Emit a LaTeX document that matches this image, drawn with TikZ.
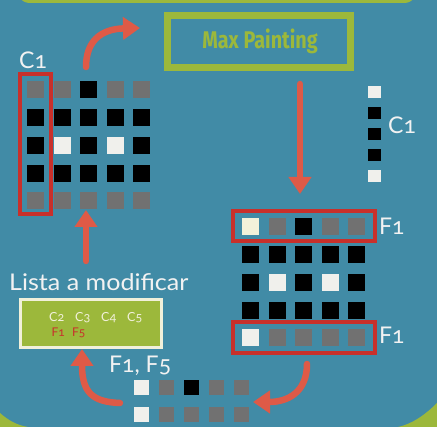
\documentclass[tikz,border=0pt]{standalone}
\usepackage{fontspec}
\setmainfont{Lato}[Numbers=OldStyle]
\newfontfamily\titlefont{Fira Sans}
\usetikzlibrary{arrows.meta}
\definecolor{teal}{HTML}{418BA6}
\definecolor{lgreen}{HTML}{9CB83B}
\definecolor{boxred}{HTML}{C8302B}
\definecolor{arrowred}{HTML}{DE5A47}
\definecolor{sqgray}{HTML}{717171}
\definecolor{sqwhite}{HTML}{F0F0EC}
\definecolor{sqcream}{HTML}{F2F2DA}
\definecolor{txtwhite}{HTML}{F2F2F2}
\definecolor{bordercream}{HTML}{F1F0DA}
\tikzset{
  sq/.style={minimum size=#1, inner sep=0pt, outer sep=0pt},
  G/.style={sq=17pt, fill=sqgray},
  B/.style={sq=17pt, fill=black},
  W/.style={sq=17pt, fill=sqwhite},
  Y/.style={sq=17pt, fill=sqcream},
  redbox/.style={draw=boxred, line width=4pt},
  arr/.style={draw=arrowred, line width=6.5pt, line cap=round,
    -{Triangle[length=17pt,width=22pt]}},
  lbl/.style={text=txtwhite, font=\fontsize{23}{23}\selectfont, inner sep=0pt},
}
\begin{document}
\begin{tikzpicture}[x=1pt,y=-1pt]
\useasboundingbox (0,0) rectangle (437,427);
\fill[teal] (0,0) rectangle (437,427);
% green frame parts
\fill[lgreen, rounded corners=14pt] (16,-40) rectangle (418,3);
\fill[lgreen] (0,413) .. controls (8,420) and (16,425) .. (28,427) -- (0,427) -- cycle;
\fill[lgreen] (437,403) .. controls (425,415) and (412,424) .. (398,427) -- (437,427) -- cycle;

% Max Painting
\node[draw=lgreen, line width=7pt, minimum width=183pt, minimum height=52pt, inner sep=0pt] (mp) at (259,41.5) {};
\node[text=lgreen, inner sep=0pt] (mpt) at (260,41) {\scalebox{0.86}[1.05]{\titlefont\bfseries\fontsize{23}{23}\selectfont Max Painting}};

% left grid
\foreach \r/\row in {0/{G,G,B,G,G},1/{B,B,B,B,B},2/{B,W,B,W,B},3/{B,B,B,B,B},4/{G,G,G,G,G}}{
  \foreach \s [count=\c from 0] in \row {
    \node[\s] (L\r\c) at (35.5+26.5*\c, 90+27.7*\r) {};
  }
}
\node[redbox, minimum width=31pt, minimum height=140pt, inner sep=0pt] (lbox) at (35.5,144) {};
\node[lbl, anchor=south west] (lc1) at (19,68.5) {C1};

% right column C1
\foreach \s [count=\c from 0] in {sqwhite,black,black,black,sqwhite}{
  \node[sq=12.5pt, fill=\s] (R\c) at (374.5, 92+21*\c) {};
}
\node[lbl, anchor=west] (rc1) at (388,125) {C1};

% right grid
\foreach \r/\row in {0/{Y,G,B,G,G},1/{B,B,B,B,B},2/{B,W,B,W,B},3/{B,B,B,B,B},4/{W,G,G,G,G}}{
  \foreach \s [count=\c from 0] in \row {
    \node[\s] (M\r\c) at (250.5+26.5*\c, 227+27.7*\r) {};
  }
}
\node[redbox, minimum width=142pt, minimum height=30pt, inner sep=0pt] (rb1) at (304,226) {};
\node[redbox, minimum width=142pt, minimum height=31pt, inner sep=0pt] (rb2) at (304,337.5) {};
\node[lbl, anchor=west] (f1a) at (379,226.5) {F1};
\node[lbl, anchor=west] (f1b) at (379,335.5) {F1};

% Lista a modificar
\node[lbl, anchor=south west] (lista) at (9,290.5) {\scalebox{1.09}[1]{Lista a modificar}};
\node[draw=bordercream, fill=lgreen, line width=3pt, minimum width=141pt, minimum height=48pt, inner sep=0pt] (lbox2) at (91,323.5) {};
\begin{scope}[every node/.style={inner sep=0pt, anchor=base west, font=\fontsize{12.5}{12.5}\selectfont}]
\node[text=bordercream] (c2) at (49,322) {C2};
\node[text=bordercream] (c3) at (75,322) {C3};
\node[text=bordercream] (c4) at (101,322) {C4};
\node[text=bordercream] (c5) at (127,322) {C5};
\node[text=boxred, font=\fontsize{12}{12}\selectfont] (f1r) at (51.5,337) {F1};
\node[text=boxred, font=\fontsize{12}{12}\selectfont] (f5r) at (72,337) {F5};
\end{scope}

% F1, F5 and bottom rows
\node[lbl, anchor=base west] (f15) at (109,373) {F1, F5};
\foreach \r/\row in {0/{sqwhite,sqgray,black,sqgray,sqgray},1/{sqwhite,sqgray,sqgray,sqgray,sqgray}}{
  \foreach \s [count=\c from 0] in \row {
    \node[sq=15pt, fill=\s] (B\r\c) at (141.5+25*\c, 388+27*\r) {};
  }
}

% arrows
\coordinate (a1s) at (86,67);
\coordinate (a1e) at (140,28);
\draw[arr] (a1s) .. controls (86,42) and (100,29) .. (a1e);
\coordinate (a2s) at (300,84);
\coordinate (a2e) at (300,194);
\draw[arr] (a2s) -- (a2e);
\coordinate (a3s) at (86,261);
\coordinate (a3e) at (86,210);
\draw[arr] (a3s) -- (a3e);
\coordinate (a4s) at (120,403);
\coordinate (a4e) at (82,349);
\draw[arr] (a4s) .. controls (92,402) and (82,392) .. (a4e);
\coordinate (a5s) at (307,364);
\coordinate (a5e) at (253,402);
\draw[arr] (a5s) .. controls (307,392) and (288,402) .. (a5e);
\end{tikzpicture}
\end{document}
